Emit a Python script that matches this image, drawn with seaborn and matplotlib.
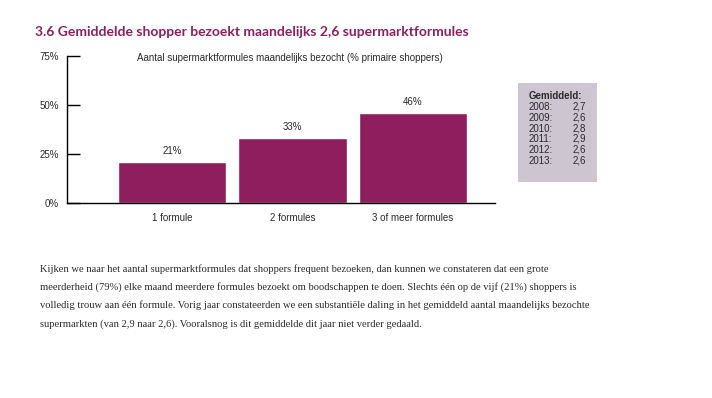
import numpy as np
import pandas as pd
import seaborn as sns
import matplotlib.pyplot as plt

# Data
categorieen = ['1 formule', '2 formules', '3 of meer formules']
percentages = [21, 33, 46]
jaren = ['2008', '2009', '2010', '2011', '2012', '2013']
gemiddeld = ['2,7', '2,6', '2,8', '2,9', '2,6', '2,6']
yticks = [0, 25, 50, 75]

paars = '#8e1e5d'
tekst = '#2b2b2b'

sns.set_style('white')
plt.rcParams['font.family'] = ['Liberation Sans', 'DejaVu Sans']

df = pd.DataFrame({'categorie': categorieen, 'pct': percentages})

fig = plt.figure(figsize=(7.12, 3.98), dpi=100)
W, H = 712, 398
ax = fig.add_axes([67 / W, 1 - 203 / H, (495 - 67) / W, (203 - 56) / H])

sns.barplot(data=df, x='categorie', y='pct', color=paars, width=0.9,
            saturation=1, ax=ax)

ax.set_xlim(-0.87, 2.68)
ax.set_ylim(0, 75)
ax.set_yticks(yticks)
ax.set_yticklabels([f'{v}%' for v in yticks], fontsize=7, color=tekst)
ax.tick_params(axis='y', direction='in', length=9, width=1, color='black', pad=6, left=True)
ax.tick_params(axis='x', length=0, pad=7, labelsize=7, labelcolor=tekst)
ax.set_xlabel('')
ax.set_ylabel('')
for s in ['top', 'right']:
    ax.spines[s].set_visible(False)
for s in ['left', 'bottom']:
    ax.spines[s].set_color('black')
    ax.spines[s].set_linewidth(1)

for i, v in enumerate(percentages):
    ax.text(i, v + 3, f'{v}%', ha='center', va='bottom', fontsize=7, color=tekst)

ax.text(0.52, 0.986, 'Aantal supermarktformules maandelijks bezocht (% primaire shoppers)',
        transform=ax.transAxes, ha='center', va='center', fontsize=7, color=tekst)

# titel
fig.text(35 / W, 1 - 32 / H, '3.6 Gemiddelde shopper bezoekt maandelijks 2,6 supermarktformules',
         ha='left', va='center', fontsize=10.0, fontweight='bold', color=paars,
         family=['Lato', 'DejaVu Sans'])

# grijs kader met gemiddelden
box = fig.add_axes([518 / W, 1 - 182 / H, (597 - 518) / W, (182 - 83) / H])
box.set_facecolor('#cdc6d1')
box.set_xticks([])
box.set_yticks([])
for s in box.spines.values():
    s.set_visible(False)
box.set_xlim(0, 79)
box.set_ylim(99, 0)
box.text(11, 16, 'Gemiddeld:', fontsize=7, fontweight='bold', color=tekst, va='baseline')
for k, (j, g) in enumerate(zip(jaren, gemiddeld)):
    y = 27 + round(k * 10.8)
    box.text(11, y, j + ':', fontsize=7, color=tekst, va='baseline')
    box.text(68, y - 0.5, g, fontsize=7, color=tekst, va='baseline', ha='right')

# toelichting
regels = [
    'Kijken we naar het aantal supermarktformules dat shoppers frequent bezoeken, dan kunnen we constateren dat een grote',
    'meerderheid (79%) elke maand meerdere formules bezoekt om boodschappen te doen. Slechts één op de vijf (21%) shoppers is',
    'volledig trouw aan één formule. Vorig jaar constateerden we een substantiële daling in het gemiddeld aantal maandelijks bezochte',
    'supermarkten (van 2,9 naar 2,6). Vooralsnog is dit gemiddelde dit jaar niet verder gedaald.',
]
for k, r in enumerate(regels):
    fig.text(40 / W, 1 - (269 + k * 18.3) / H, r, ha='left', va='center', fontsize=7.6,
             color=tekst, family=['Liberation Serif', 'DejaVu Serif'])

fig.savefig('out.png', dpi=100, facecolor='white')
